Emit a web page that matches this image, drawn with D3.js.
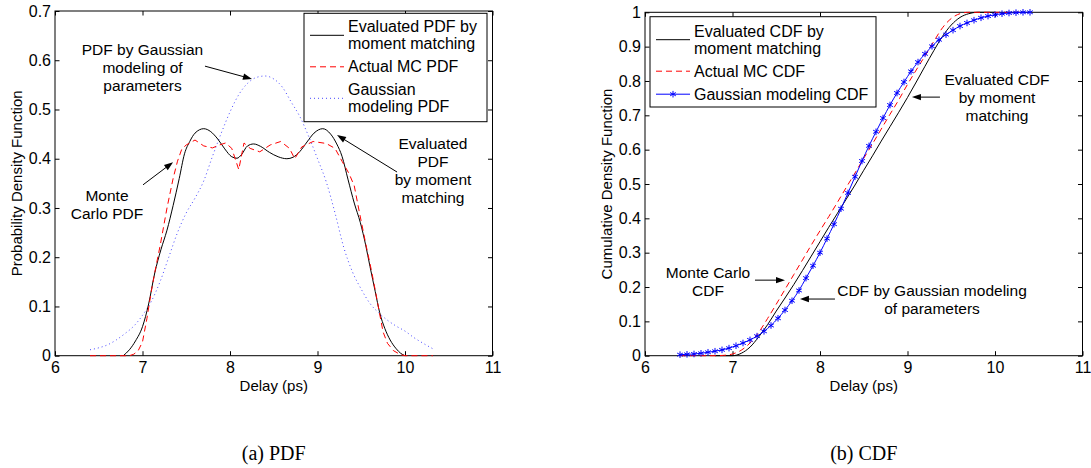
<!DOCTYPE html>
<html>
<head>
<meta charset="utf-8">
<script src="https://cdn.jsdelivr.net/npm/d3@7"></script>
<style>
  body { margin: 0; background: #fff; }
  text { font-family: "Liberation Sans", Arial, sans-serif; fill: #000; }
</style>
</head>
<body>
<svg id="fig" width="1091" height="468"></svg>
<script>
// axis ticks
const xTicks = [6, 7, 8, 9, 10, 11];
const pdfYTicks = [0, 0.1, 0.2, 0.3, 0.4, 0.5, 0.6, 0.7];
const cdfYTicks = [0, 0.1, 0.2, 0.3, 0.4, 0.5, 0.6, 0.7, 0.8, 0.9, 1];

// (a) PDF - evaluated by moment matching
const pdfEval = [
  [6.78, 0], [6.85, 0.012], [6.92, 0.03], [7.0, 0.059], [7.07, 0.105], [7.14, 0.168],
  [7.21, 0.215], [7.28, 0.255], [7.35, 0.305], [7.42, 0.36], [7.48, 0.41], [7.54, 0.435],
  [7.6, 0.452], [7.7, 0.461], [7.78, 0.455], [7.86, 0.44], [7.94, 0.42], [8.02, 0.404],
  [8.08, 0.401], [8.13, 0.408], [8.2, 0.426], [8.27, 0.43], [8.35, 0.425], [8.45, 0.413],
  [8.55, 0.404], [8.65, 0.4], [8.72, 0.403], [8.8, 0.415], [8.88, 0.434], [8.96, 0.452],
  [9.06, 0.461], [9.15, 0.45], [9.22, 0.43], [9.28, 0.405], [9.35, 0.357], [9.42, 0.31],
  [9.49, 0.27], [9.55, 0.225], [9.6, 0.181], [9.66, 0.13], [9.71, 0.088], [9.77, 0.055],
  [9.83, 0.032], [9.9, 0.014], [9.95, 0.005], [10.0, 0]
];

// (a) PDF - actual Monte Carlo
const pdfMc = [
  [6.4, 0], [6.85, 0], [6.9, 0.003], [6.95, 0.01], [7.0, 0.028], [7.05, 0.075], [7.1, 0.13],
  [7.15, 0.178], [7.2, 0.222], [7.28, 0.3], [7.35, 0.36], [7.4, 0.395], [7.45, 0.42],
  [7.5, 0.428], [7.6, 0.438], [7.7, 0.426], [7.8, 0.422], [7.88, 0.428], [7.95, 0.432],
  [8.02, 0.421], [8.1, 0.378], [8.16, 0.432], [8.23, 0.421], [8.34, 0.414], [8.46, 0.428],
  [8.58, 0.435], [8.68, 0.421], [8.74, 0.4], [8.82, 0.424], [8.95, 0.435], [9.1, 0.431],
  [9.2, 0.421], [9.28, 0.395], [9.36, 0.37], [9.42, 0.345], [9.48, 0.29], [9.56, 0.22],
  [9.62, 0.17], [9.66, 0.133], [9.71, 0.085], [9.75, 0.048], [9.8, 0.025], [9.87, 0.01],
  [9.95, 0.002], [10.0, 0], [10.32, 0]
];

// (a) PDF - Gaussian modeling of parameters
const pdfGauss = [
  [6.4, 0.012], [6.5, 0.016], [6.6, 0.022], [6.7, 0.032], [6.8, 0.045], [6.9, 0.06],
  [7.0, 0.082], [7.1, 0.11], [7.2, 0.15], [7.3, 0.2], [7.4, 0.25], [7.5, 0.29],
  [7.6, 0.32], [7.7, 0.355], [7.8, 0.405], [7.9, 0.452], [8.0, 0.495], [8.1, 0.53],
  [8.2, 0.553], [8.3, 0.565], [8.4, 0.568], [8.5, 0.562], [8.6, 0.545], [8.7, 0.515],
  [8.8, 0.485], [8.9, 0.445], [9.0, 0.4], [9.1, 0.353], [9.2, 0.29], [9.3, 0.22],
  [9.4, 0.17], [9.5, 0.135], [9.6, 0.106], [9.7, 0.087], [9.8, 0.072], [9.9, 0.06],
  [10.0, 0.05], [10.1, 0.037], [10.2, 0.026], [10.34, 0.012]
];

// (b) CDF - evaluated by moment matching
const cdfEval = [
  [6.8, 0], [7.0, 0], [7.1, 0.007], [7.2, 0.025], [7.3, 0.055], [7.4, 0.09], [7.5, 0.13],
  [7.6, 0.168], [7.7, 0.207], [7.8, 0.248], [7.9, 0.29], [8.0, 0.332], [8.1, 0.374],
  [8.2, 0.415], [8.3, 0.456], [8.4, 0.497], [8.5, 0.54], [8.6, 0.582], [8.7, 0.625],
  [8.8, 0.667], [8.9, 0.709], [9.0, 0.752], [9.1, 0.797], [9.2, 0.843], [9.3, 0.888],
  [9.4, 0.93], [9.5, 0.963], [9.6, 0.985], [9.7, 0.996], [9.8, 1.0], [10.0, 1.0]
];

// (b) CDF - actual Monte Carlo
const cdfMc = [
  [6.4, 0], [6.8, 0], [6.9, 0.001], [7.0, 0.005], [7.1, 0.016], [7.2, 0.037], [7.3, 0.068],
  [7.4, 0.108], [7.5, 0.15], [7.6, 0.193], [7.7, 0.236], [7.8, 0.279], [7.9, 0.322],
  [8.0, 0.364], [8.1, 0.405], [8.2, 0.447], [8.3, 0.49], [8.4, 0.532], [8.5, 0.575],
  [8.6, 0.617], [8.7, 0.66], [8.8, 0.703], [8.9, 0.745], [9.0, 0.79], [9.1, 0.832],
  [9.2, 0.873], [9.3, 0.915], [9.4, 0.955], [9.5, 0.982], [9.6, 0.996], [9.7, 1.0], [10.3, 1.0]
];

// (b) CDF - Gaussian modeling (with asterisk markers)
const cdfGaussX = [
  6.40, 6.48, 6.56, 6.64, 6.72, 6.80, 6.88, 6.96, 7.04, 7.12, 7.20, 7.28, 7.36, 7.44, 7.52,
  7.60, 7.68, 7.76, 7.84, 7.92, 8.00, 8.08, 8.16, 8.24, 8.32, 8.40, 8.48, 8.56, 8.64, 8.72,
  8.80, 8.88, 8.96, 9.04, 9.12, 9.20, 9.28, 9.36, 9.44, 9.52, 9.60, 9.68, 9.76, 9.84, 9.92,
  10.00, 10.08, 10.16, 10.24, 10.32, 10.40
];
const cdfGaussY = [
  0.003, 0.004, 0.005, 0.007, 0.010, 0.013, 0.017, 0.022, 0.029, 0.037, 0.046, 0.057, 0.071,
  0.088, 0.109, 0.133, 0.160, 0.190, 0.226, 0.262, 0.300, 0.341, 0.383, 0.428, 0.474, 0.521,
  0.567, 0.611, 0.652, 0.692, 0.730, 0.765, 0.797, 0.828, 0.855, 0.879, 0.901, 0.920, 0.935,
  0.948, 0.960, 0.969, 0.977, 0.984, 0.989, 0.993, 0.996, 0.998, 0.999, 1.000, 1.000
];

const svg = d3.select("#fig");
const tickLen = 4.5;

function drawPanel(p) {
  const x = d3.scaleLinear().domain([6, 11]).range([p.left, p.right]);
  const y = d3.scaleLinear().domain([0, p.yMax]).range([p.bottom, p.top]);
  const g = svg.append("g");

  // ticks, all pointing inward (matlab style)
  g.append("g").attr("transform", `translate(0,${p.bottom})`)
    .call(d3.axisBottom(x).tickValues(xTicks).tickSizeInner(-tickLen).tickSizeOuter(0)
      .tickPadding(6).tickFormat(d3.format("d")))
    .call(a => a.select(".domain").remove());
  g.append("g").attr("transform", `translate(0,${p.top})`)
    .call(d3.axisTop(x).tickValues(xTicks).tickSizeInner(-tickLen).tickSizeOuter(0).tickFormat(""))
    .call(a => a.select(".domain").remove());
  g.append("g").attr("transform", `translate(${p.left},0)`)
    .call(d3.axisLeft(y).tickValues(p.yTicks).tickSizeInner(-tickLen).tickSizeOuter(0)
      .tickPadding(4).tickFormat(d => String(d)))
    .call(a => a.select(".domain").remove());
  g.append("g").attr("transform", `translate(${p.right},0)`)
    .call(d3.axisRight(y).tickValues(p.yTicks).tickSizeInner(-tickLen).tickSizeOuter(0).tickFormat(""))
    .call(a => a.select(".domain").remove());
  g.selectAll(".tick text").style("font-size", "16px").style("font-family", "Liberation Sans, Arial, sans-serif");
  g.selectAll(".tick line").attr("stroke", "#000");

  g.append("rect")
    .attr("x", p.left).attr("y", p.top)
    .attr("width", p.right - p.left).attr("height", p.bottom - p.top)
    .attr("fill", "none").attr("stroke", "#000").attr("stroke-width", 1);

  // axis titles
  g.append("text")
    .attr("x", (p.left + p.right) / 2).attr("y", p.bottom + 35)
    .attr("text-anchor", "middle").style("font-size", "15px")
    .text("Delay (ps)");
  g.append("text")
    .attr("transform", `translate(${p.left - 33},${(p.top + p.bottom) / 2}) rotate(-90)`)
    .attr("text-anchor", "middle").style("font-size", "15px")
    .text(p.yLabel);

  g.append("text")
    .attr("x", (p.left + p.right) / 2).attr("y", 460)
    .attr("text-anchor", "middle")
    .style("font-family", "Liberation Serif, Times New Roman, serif").style("font-size", "20px")
    .text(p.caption);

  return { x, y, g };
}

function addArrow(g, x1, y1, x2, y2) {
  const ang = Math.atan2(y2 - y1, x2 - x1);
  const L = 9, Wd = 3.2;
  g.append("line")
    .attr("x1", x1).attr("y1", y1)
    .attr("x2", x2 - Math.cos(ang) * L * 0.8).attr("y2", y2 - Math.sin(ang) * L * 0.8)
    .attr("stroke", "#000").attr("stroke-width", 1);
  const bx = x2 - Math.cos(ang) * L, by = y2 - Math.sin(ang) * L;
  const px = -Math.sin(ang) * Wd, py = Math.cos(ang) * Wd;
  g.append("path")
    .attr("d", `M${x2},${y2}L${bx + px},${by + py}L${bx - px},${by - py}Z`)
    .attr("fill", "#000");
}

function addNote(g, s, n) {
  const lh = 18;
  const cy = s.y(n.y);
  const y0 = cy - (n.lines.length - 1) * lh / 2 + 5.5;
  g.append("text")
    .attr("text-anchor", "middle").style("font-size", "15.5px")
    .selectAll("tspan").data(n.lines).join("tspan")
    .attr("x", s.x(n.x)).attr("y", (d, i) => y0 + i * lh)
    .text(d => d);
  addArrow(g, s.x(n.from[0]), s.y(n.from[1]), s.x(n.to[0]), s.y(n.to[1]));
}

function addLegend(g, box, entries) {
  g.append("rect")
    .attr("x", box.x).attr("y", box.y).attr("width", box.w).attr("height", box.h)
    .attr("fill", "#fff").attr("stroke", "#000").attr("stroke-width", 1);
  let top = box.y + box.pad;
  entries.forEach(e => {
    const h = e.lines.length * 17;
    const mid = top + h / 2;
    const ln = g.append("line")
      .attr("x1", box.x + 6).attr("x2", box.x + 40).attr("y1", mid).attr("y2", mid)
      .attr("stroke", e.color).attr("stroke-width", 1);
    if (e.dash) ln.attr("stroke-dasharray", e.dash);
    if (e.marker) {
      g.append("path")
        .attr("transform", `translate(${box.x + 23},${mid})`)
        .attr("d", d3.symbol(d3.symbolAsterisk, 30)())
        .attr("fill", "none").attr("stroke", e.color);
    }
    g.append("text").style("font-size", "16px")
      .selectAll("tspan").data(e.lines).join("tspan")
      .attr("x", box.x + 44).attr("y", (d, i) => top + 8.5 + i * 17 + 5.5)
      .text(d => d);
    top += h + 6;
  });
}

// ---------- (a) PDF ----------
const A = drawPanel({
  left: 55, right: 492.5, top: 11, bottom: 355.7, yMax: 0.7,
  yTicks: pdfYTicks, yLabel: "Probability Density Function", caption: "(a) PDF"
});

const lineA = d3.line().x(d => A.x(d[0])).y(d => A.y(d[1]));
A.g.append("path").datum(pdfGauss)
  .attr("d", lineA.curve(d3.curveMonotoneX))
  .attr("fill", "none").attr("stroke", "#4646ff").attr("stroke-width", 1).attr("stroke-dasharray", "1,3");
A.g.append("path").datum(pdfEval)
  .attr("d", lineA.curve(d3.curveMonotoneX))
  .attr("fill", "none").attr("stroke", "#000").attr("stroke-width", 1);
A.g.append("path").datum(pdfMc)
  .attr("d", lineA.curve(d3.curveLinear))
  .attr("fill", "none").attr("stroke", "#ff0000").attr("stroke-width", 1).attr("stroke-dasharray", "6,4");

addNote(A.g, A, { lines: ["PDF by Gaussian", "modeling of", "parameters"], x: 7.0, y: 0.586,
  from: [7.714, 0.588], to: [8.251, 0.562] });
addNote(A.g, A, { lines: ["Monte", "Carlo PDF"], x: 6.594, y: 0.307,
  from: [7.006, 0.347], to: [7.349, 0.393] });
addNote(A.g, A, { lines: ["Evaluated", "PDF", "by moment", "matching"], x: 10.32, y: 0.377,
  from: [9.909, 0.373], to: [9.223, 0.448] });

addLegend(A.g, { x: 304, y: 13.3, w: 183, h: 108.4, pad: 5 }, [
  { lines: ["Evaluated PDF by", "moment matching"], color: "#000" },
  { lines: ["Actual MC PDF"], color: "#ff0000", dash: "6,4" },
  { lines: ["Gaussian", "modeling PDF"], color: "#4646ff", dash: "1,3" }
]);

// ---------- (b) CDF ----------
const B = drawPanel({
  left: 645, right: 1082.5, top: 12.3, bottom: 355.7, yMax: 1,
  yTicks: cdfYTicks, yLabel: "Cumulative Density Function", caption: "(b) CDF"
});

const lineB = d3.line().x(d => B.x(d[0])).y(d => B.y(d[1])).curve(d3.curveMonotoneX);
const cdfGauss = cdfGaussX.map((v, i) => [v, cdfGaussY[i]]);

B.g.append("path").datum(cdfEval)
  .attr("d", lineB).attr("fill", "none").attr("stroke", "#000").attr("stroke-width", 1);
B.g.append("path").datum(cdfMc)
  .attr("d", lineB).attr("fill", "none").attr("stroke", "#ff0000").attr("stroke-width", 1)
  .attr("stroke-dasharray", "6,4");
B.g.append("path").datum(cdfGauss)
  .attr("d", lineB).attr("fill", "none").attr("stroke", "#0000ff").attr("stroke-width", 1);
B.g.selectAll(".star").data(cdfGauss).join("path")
  .attr("class", "star")
  .attr("transform", d => `translate(${B.x(d[0])},${B.y(d[1])})`)
  .attr("d", d3.symbol(d3.symbolAsterisk, 30)())
  .attr("fill", "none").attr("stroke", "#0000ff").attr("stroke-width", 1);

addNote(B.g, B, { lines: ["Evaluated CDF", "by moment", "matching"], x: 10.023, y: 0.753,
  from: [9.371, 0.753], to: [9.051, 0.753] });
addNote(B.g, B, { lines: ["Monte Carlo", "CDF"], x: 6.72, y: 0.2175,
  from: [7.257, 0.22], to: [7.6, 0.22] });
addNote(B.g, B, { lines: ["CDF by Gaussian modeling", "of parameters"], x: 9.28, y: 0.164,
  from: [8.171, 0.165], to: [7.771, 0.165] });

addLegend(B.g, { x: 650, y: 16.7, w: 226, h: 90.3, pad: 6 }, [
  { lines: ["Evaluated CDF by", "moment matching"], color: "#000" },
  { lines: ["Actual MC CDF"], color: "#ff0000", dash: "6,4" },
  { lines: ["Gaussian modeling CDF"], color: "#0000ff", marker: true }
]);
</script>
</body>
</html>
